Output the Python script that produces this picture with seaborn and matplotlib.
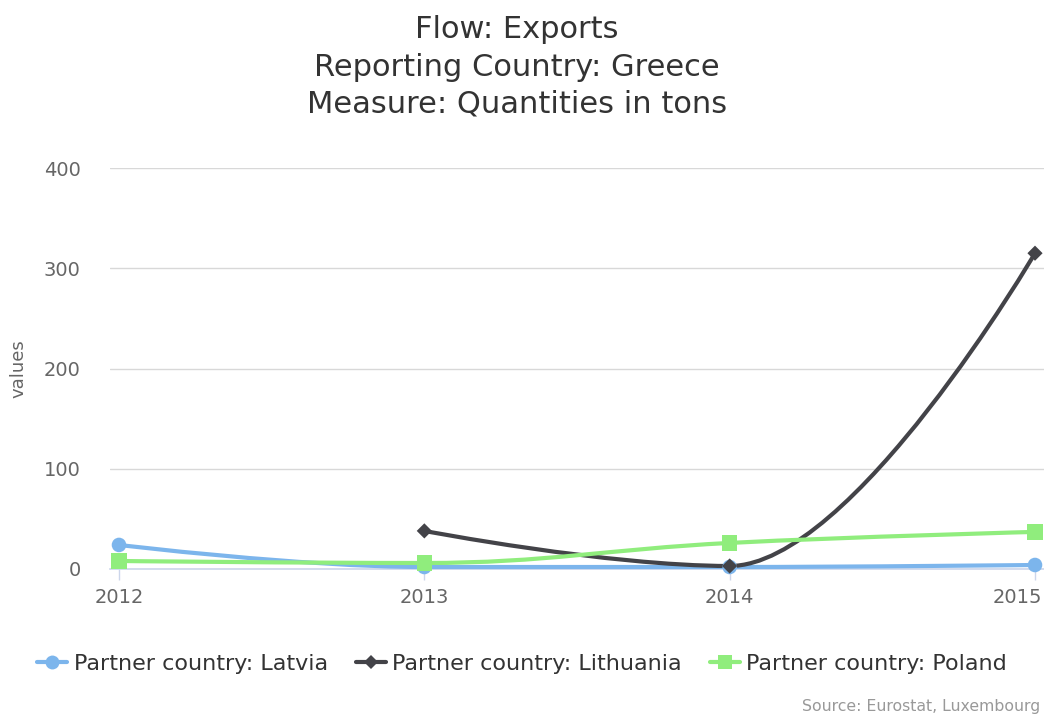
import matplotlib
matplotlib.use("Agg")
import matplotlib.pyplot as plt
import matplotlib.transforms as mtransforms
from matplotlib.path import Path
from matplotlib.patches import PathPatch
from matplotlib.lines import Line2D
import seaborn as sns
import pandas as pd

# data (tons)
years = [2012, 2013, 2014, 2015]
latvia = [24, 2, 2, 4]
lithuania = [None, 38, 3, 315]
poland = [8, 6, 26, 37]

series_names = ["Partner country: Latvia", "Partner country: Lithuania", "Partner country: Poland"]
colors = ["#7cb5ec", "#434348", "#90ed7d"]
markers = ["o", "D", "s"]
sizes = [110, 60, 120]

rows = []
for name, vals in zip(series_names, [latvia, lithuania, poland]):
    for yr, v in zip(years, vals):
        if v is not None:
            rows.append({"year": yr, "value": v, "series": name})
df = pd.DataFrame(rows)


def spline_path(xs, ys, smoothing=1.5):
    # highcharts-like spline: bezier control points from neighbours
    n = len(xs)
    left = [(x, y) for x, y in zip(xs, ys)]
    right = [(x, y) for x, y in zip(xs, ys)]
    d = smoothing + 1
    for i in range(1, n - 1):
        lx = (smoothing * xs[i] + xs[i - 1]) / d
        ly = (smoothing * ys[i] + ys[i - 1]) / d
        rx = (smoothing * xs[i] + xs[i + 1]) / d
        ry = (smoothing * ys[i] + ys[i + 1]) / d
        corr = (ry - ly) * (rx - xs[i]) / (rx - lx) + ys[i] - ry
        ly += corr
        ry += corr
        if ly > ys[i - 1] and ly > ys[i]:
            ly = max(ys[i - 1], ys[i]); ry = 2 * ys[i] - ly
        elif ly < ys[i - 1] and ly < ys[i]:
            ly = min(ys[i - 1], ys[i]); ry = 2 * ys[i] - ly
        if ry > ys[i + 1] and ry > ys[i]:
            ry = max(ys[i + 1], ys[i]); ly = 2 * ys[i] - ry
        elif ry < ys[i + 1] and ry < ys[i]:
            ry = min(ys[i + 1], ys[i]); ly = 2 * ys[i] - ry
        left[i] = (lx, ly)
        right[i] = (rx, ry)
    verts = [(xs[0], ys[0])]
    codes = [Path.MOVETO]
    for i in range(1, n):
        verts += [right[i - 1], left[i], (xs[i], ys[i])]
        codes += [Path.CURVE4] * 3
    return Path(verts, codes)


sns.set_theme(style="white")
plt.rcParams["font.family"] = ["DejaVu Sans"]

fig = plt.figure(figsize=(10.44, 7.15), dpi=100)
ax = fig.add_axes([110 / 1044, 146 / 715, 934 / 1044, 401 / 715])

for name, col in zip(series_names, colors):
    sub = df[df["series"] == name]
    p = spline_path(list(sub["year"]), list(sub["value"]))
    ax.add_patch(PathPatch(p, facecolor="none", edgecolor=col, lw=3, zorder=3, clip_on=False))

sns.scatterplot(data=df, x="year", y="value", hue="series", style="series",
                palette=dict(zip(series_names, colors)),
                markers=dict(zip(series_names, markers)),
                size="series", sizes=dict(zip(series_names, sizes)),
                linewidth=0, legend=False, ax=ax, zorder=4, clip_on=False)

ax.set_xlim(2012 - 9 / 305.33, 2015 + 9 / 305.33)
ax.set_ylim(0, 400)
ax.set_xticks(years)
ax.set_xticklabels([str(y) for y in years])
ax.set_yticks([0, 100, 200, 300, 400])
ax.yaxis.grid(True, color="#d8d8d8", lw=1)
ax.xaxis.grid(False)
for s in ["top", "right", "left"]:
    ax.spines[s].set_visible(False)
ax.spines["bottom"].set_color("#ccd6eb")
ax.spines["bottom"].set_linewidth(1.2)
ax.tick_params(axis="x", length=8, width=1, color="#ccd6eb", labelsize=14, labelcolor="#666666", pad=6, bottom=True)
ax.tick_params(axis="y", length=0, labelsize=14, labelcolor="#666666", pad=21)
ax.set_xlabel("")
ax.set_ylabel("values", fontsize=13, color="#666666", labelpad=12)

# keep the last year label inside the figure
last = ax.get_xticklabels()[-1]
last.set_horizontalalignment("right")
last.set_transform(last.get_transform() + mtransforms.ScaledTranslation(7 / 100, 0, fig.dpi_scale_trans))

title_lines = ["Flow: Exports", "Reporting Country: Greece", "Measure: Quantities in tons"]
for k, line in enumerate(title_lines):
    fig.text(517 / 1044, 1 - (30 + 37 * k) / 715, line, ha="center", va="center",
             fontsize=22, color="#333333")

handles = [Line2D([0], [0], color=c, lw=3, marker=m, markersize=ms, markeredgewidth=0)
           for c, m, ms in zip(colors, markers, [10, 7.5, 10])]
fig.legend(handles, series_names, loc="center", bbox_to_anchor=(0.5, 1 - 664 / 715),
           ncol=3, frameon=False, fontsize=16, handlelength=1.35, handletextpad=0.3,
           columnspacing=1.25, labelcolor="#333333")

fig.text(1040 / 1044, 1 - 707 / 715, "Source: Eurostat, Luxembourg", ha="right", va="center",
         fontsize=11.3, color="#999999")

fig.savefig("out.png", dpi=100)
